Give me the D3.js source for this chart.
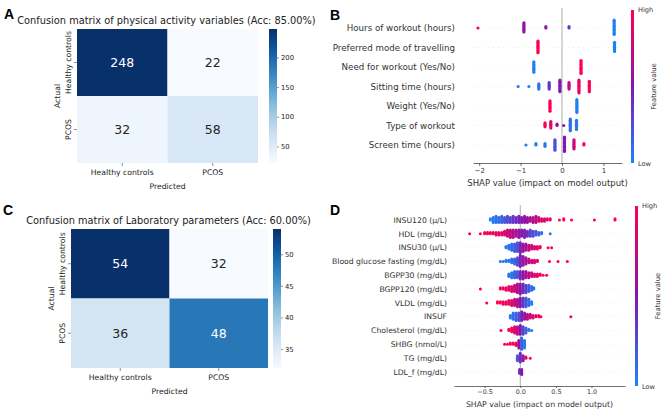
<!DOCTYPE html>
<html>
<head>
<meta charset="utf-8">
<script src="https://cdn.jsdelivr.net/npm/d3@7"></script>
<style>
  body { margin: 0; background: #fff; }
  svg text { font-family: "DejaVu Sans", sans-serif; }
</style>
</head>
<body>
<div id="fig"></div>
<script>
// confusion matrices (rows = actual, cols = predicted)
const classes = ["Healthy controls", "PCOS"];
const cmPhysical = [[248, 22], [32, 58]];
const cmLab = [[54, 32], [36, 48]];
const cmPhysicalTicks = [50, 100, 150, 200];
const cmLabTicks = [35, 40, 45, 50];

// SHAP summary, physical activity: [shap value, stacked count, feature value 0..1]
const physFeatures = [
  "Hours of workout (hours)", "Preferred mode of travelling", "Need for workout (Yes/No)",
  "Sitting time (hours)", "Weight (Yes/No)", "Type of workout", "Screen time (hours)"
];
const physShap = [
  [[-2.03, 1, 1], [-0.92, 8, 0.55], [-0.39, 2, 0.55], [0.17, 2, 0.35], [1.26, 12, 0.02]],
  [[-0.58, 10, 1], [1.27, 8, 0.02]],
  [[-0.68, 9, 0.02], [0.46, 11, 1]],
  [[-1.06, 1, 0.02], [-0.8, 1, 0.02], [-0.56, 5, 0.08], [-0.31, 6, 0.35], [-0.05, 10, 0.5],
   [0.17, 6, 0.75], [0.41, 11, 0.92], [0.66, 9, 1]],
  [[-0.29, 9, 1], [0.36, 11, 0.02]],
  [[-0.41, 4, 1], [-0.27, 6, 0.9], [-0.12, 2, 0.6], [0.04, 1, 0.5], [0.2, 10, 0.12], [0.35, 8, 0.04]],
  [[-0.87, 1, 0.02], [-0.63, 2, 0.02], [-0.41, 3, 0.05], [-0.17, 9, 0.25], [0.06, 12, 0.5],
   [0.29, 8, 0.8], [0.53, 2, 1]]
];
const physXTicks = [-2, -1, 0, 1];

// SHAP summary, laboratory parameters
const labFeatures = [
  "INSU120 (μ/L)", "HDL (mg/dL)", "INSU30 (μ/L)", "Blood glucose fasting (mg/dL)",
  "BGPP30 (mg/dL)", "BGPP120 (mg/dL)", "VLDL (mg/dL)", "INSUF", "Cholesterol (mg/dL)",
  "SHBG (nmol/L)", "TG (mg/dL)", "LDL_f (mg/dL)"
];
const labShap = [
  [[-0.42, 2, 0.03], [-0.38, 5, 0.05], [-0.34, 6, 0.08], [-0.3, 5, 0.1], [-0.26, 6, 0.15],
   [-0.22, 5, 0.2], [-0.18, 6, 0.25], [-0.14, 5, 0.3], [-0.1, 6, 0.35], [-0.06, 5, 0.4],
   [-0.02, 6, 0.45], [0.02, 5, 0.5], [0.06, 6, 0.55], [0.1, 5, 0.6], [0.14, 4, 0.65],
   [0.18, 5, 0.7], [0.22, 6, 0.75], [0.26, 4, 0.8], [0.3, 3, 0.85], [0.34, 3, 0.88],
   [0.38, 2, 0.9], [0.42, 2, 0.95], [0.55, 1, 1], [0.61, 2, 1], [0.72, 1, 1], [1.04, 1, 1], [1.33, 2, 1]],
  [[-0.71, 1, 1], [-0.56, 1, 1], [-0.5, 2, 1], [-0.46, 2, 0.97], [-0.42, 2, 0.95], [-0.38, 2, 0.95],
   [-0.34, 3, 0.92], [-0.3, 3, 0.9], [-0.26, 3, 0.87], [-0.22, 4, 0.85], [-0.18, 6, 0.8],
   [-0.14, 7, 0.75], [-0.1, 7, 0.7], [-0.06, 6, 0.65], [-0.02, 7, 0.6], [0.02, 6, 0.5],
   [0.06, 7, 0.45], [0.1, 5, 0.4], [0.14, 6, 0.3], [0.18, 5, 0.25], [0.22, 4, 0.2],
   [0.26, 3, 0.15], [0.3, 2, 0.1], [0.42, 1, 0.05]],
  [[-0.2, 2, 0.05], [-0.16, 4, 0.08], [-0.12, 6, 0.1], [-0.08, 7, 0.15], [-0.04, 8, 0.25],
   [0, 9, 0.45], [0.04, 7, 0.55], [0.08, 6, 0.65], [0.12, 5, 0.75], [0.16, 4, 0.8],
   [0.2, 3, 0.85], [0.24, 3, 0.9], [0.28, 2, 0.95], [0.39, 1, 1], [0.44, 1, 1]],
  [[-0.28, 1, 0.05], [-0.24, 1, 0.05], [-0.2, 2, 0.05], [-0.16, 2, 0.08], [-0.12, 4, 0.1],
   [-0.08, 5, 0.15], [-0.04, 7, 0.25], [0, 10, 0.45], [0.04, 8, 0.55], [0.08, 6, 0.65],
   [0.12, 4, 0.75], [0.16, 3, 0.8], [0.2, 3, 0.85], [0.24, 2, 0.9], [0.41, 1, 1], [0.53, 1, 1], [0.66, 1, 1]],
  [[-0.16, 3, 0.05], [-0.12, 5, 0.08], [-0.08, 6, 0.15], [-0.04, 6, 0.2], [0, 7, 0.4],
   [0.04, 7, 0.55], [0.08, 6, 0.65], [0.12, 5, 0.7], [0.16, 4, 0.8], [0.2, 3, 0.85],
   [0.24, 3, 0.9], [0.28, 2, 0.95], [0.32, 1, 1], [0.37, 1, 1]],
  [[-0.56, 1, 1], [-0.28, 2, 1], [-0.24, 2, 0.95], [-0.2, 3, 0.95], [-0.16, 4, 0.9],
   [-0.12, 5, 0.85], [-0.08, 6, 0.8], [-0.04, 8, 0.7], [0, 9, 0.55], [0.04, 8, 0.4],
   [0.08, 7, 0.3], [0.12, 6, 0.2], [0.16, 4, 0.1], [0.19, 2, 0.05]],
  [[-0.47, 1, 1], [-0.32, 2, 1], [-0.28, 2, 1], [-0.24, 3, 0.95], [-0.2, 3, 0.95],
   [-0.16, 4, 0.9], [-0.12, 5, 0.85], [-0.08, 6, 0.8], [-0.04, 7, 0.7], [0, 8, 0.5],
   [0.04, 8, 0.35], [0.08, 8, 0.2], [0.12, 6, 0.1], [0.16, 3, 0.05]],
  [[-0.14, 3, 0.05], [-0.1, 6, 0.1], [-0.06, 7, 0.15], [-0.02, 7, 0.25], [0.02, 8, 0.45],
   [0.06, 6, 0.6], [0.1, 5, 0.7], [0.14, 4, 0.8], [0.18, 3, 0.85], [0.22, 2, 0.9],
   [0.26, 2, 0.95], [0.29, 1, 1], [0.71, 1, 1]],
  [[-0.27, 1, 1], [-0.16, 2, 1], [-0.12, 4, 0.95], [-0.08, 6, 0.85], [-0.04, 7, 0.75],
   [0, 8, 0.5], [0.04, 7, 0.3], [0.08, 5, 0.15], [0.12, 2, 0.05], [0.16, 1, 0.05]],
  [[-0.22, 1, 1], [-0.18, 1, 1], [-0.14, 2, 1], [-0.1, 2, 0.95], [-0.06, 3, 0.9],
   [-0.02, 7, 0.6], [0.02, 10, 0.15], [0.06, 7, 0.05]],
  [[-0.04, 5, 0.2], [0, 8, 0.4], [0.04, 5, 0.6], [0.08, 2, 0.85], [0.14, 1, 1]],
  [[-0.01, 4, 0.4], [0.02, 5, 0.5]]
];
const labXTicks = [-0.5, 0, 0.5, 1.0];

const width = 669;
const height = 413;

const svg = d3.select("#fig").append("svg")
  .attr("width", width)
  .attr("height", height);

const defs = svg.append("defs");

// blue -> violet -> red, like shap's red_blue map
const shapColor = d3.scaleLinear()
  .domain([0, 0.5, 1])
  .range(["#1a84f8", "#8516b0", "#ff0052"])
  .interpolate(d3.interpolateRgb);

// panel letters
[["A", 4, 19], ["B", 330, 20], ["C", 3, 215], ["D", 330, 215]].forEach(([t, x, y]) => {
  svg.append("text")
    .attr("x", x).attr("y", y)
    .style("font-family", "'Liberation Sans', Arial, sans-serif")
    .style("font-weight", "bold")
    .style("font-size", "14px")
    .text(t);
});

function drawMatrix(cfg) {
  const g = svg.append("g");
  const flat = cfg.values.flat();
  const lo = d3.min(flat), hi = d3.max(flat);
  const color = d3.scaleSequential(d3.interpolateBlues).domain([lo, hi]);
  const x = d3.scaleBand().domain(classes).range([cfg.left, cfg.right]);
  const y = d3.scaleBand().domain(classes).range([cfg.top, cfg.bottom]);

  const cells = cfg.values.flatMap((row, i) =>
    row.map((v, j) => ({ actual: classes[i], predicted: classes[j], v })));

  g.selectAll("rect.cell").data(cells).join("rect")
    .attr("class", "cell")
    .attr("x", (d) => x(d.predicted))
    .attr("y", (d) => y(d.actual))
    .attr("width", x.bandwidth())
    .attr("height", y.bandwidth())
    .attr("fill", (d) => color(d.v));

  g.selectAll("text.val").data(cells).join("text")
    .attr("class", "val")
    .attr("x", (d) => x(d.predicted) + x.bandwidth() / 2)
    .attr("y", (d) => y(d.actual) + y.bandwidth() / 2)
    .attr("dy", "0.36em")
    .attr("text-anchor", "middle")
    .style("font-size", "12.5px")
    .attr("fill", (d) => (d.v - lo) / (hi - lo) > 0.5 ? "#ffffff" : "#262626")
    .text((d) => d.v);

  // title
  g.append("text")
    .attr("x", (cfg.left + cfg.right) / 2 - 1)
    .attr("y", cfg.top - 5)
    .attr("text-anchor", "middle")
    .style("font-size", "9.8px")
    .attr("fill", "#222")
    .text(cfg.title);

  // axes
  const xAxis = g.append("g")
    .attr("transform", `translate(0, ${cfg.bottom})`)
    .call(d3.axisBottom(x).tickSize(3).tickPadding(4));
  xAxis.select(".domain").remove();
  xAxis.selectAll("line").attr("stroke", "#444").attr("stroke-width", 0.6);
  xAxis.selectAll("text").style("font-size", "7.7px").attr("fill", "#222")
    .style("font-family", "'DejaVu Sans', sans-serif");

  const yAxis = g.append("g")
    .attr("transform", `translate(${cfg.left}, 0)`)
    .call(d3.axisLeft(y).tickSize(3));
  yAxis.select(".domain").remove();
  yAxis.selectAll("line").attr("stroke", "#444").attr("stroke-width", 0.6);
  yAxis.selectAll("text")
    .attr("x", 0).attr("y", -6).attr("dy", 0)
    .attr("text-anchor", "middle")
    .attr("transform", "rotate(-90)")
    .style("font-size", "7.7px").attr("fill", "#222")
    .style("font-family", "'DejaVu Sans', sans-serif");

  g.append("text")
    .attr("x", (cfg.left + cfg.right) / 2)
    .attr("y", cfg.bottom + 26)
    .attr("text-anchor", "middle")
    .style("font-size", "7.7px").attr("fill", "#222")
    .text("Predicted");

  g.append("text")
    .attr("transform", `translate(${cfg.left - 17}, ${(cfg.top + cfg.bottom) / 2}) rotate(-90)`)
    .attr("text-anchor", "middle")
    .style("font-size", "7.7px").attr("fill", "#222")
    .text("Actual");

  // colour bar
  const gradId = "grad-" + cfg.id;
  const grad = defs.append("linearGradient")
    .attr("id", gradId)
    .attr("x1", 0).attr("y1", 1).attr("x2", 0).attr("y2", 0);
  d3.range(0, 1.0001, 0.1).forEach((t) => {
    grad.append("stop").attr("offset", t).attr("stop-color", d3.interpolateBlues(t));
  });
  g.append("rect")
    .attr("x", cfg.cbarX).attr("y", cfg.top)
    .attr("width", 8).attr("height", cfg.bottom - cfg.top)
    .attr("fill", `url(#${gradId})`);
  const cScale = d3.scaleLinear().domain([lo, hi]).range([cfg.bottom, cfg.top]);
  const cAxis = g.append("g")
    .attr("transform", `translate(${cfg.cbarX + 8}, 0)`)
    .call(d3.axisRight(cScale).tickValues(cfg.ticks).tickSize(2).tickPadding(2));
  cAxis.select(".domain").remove();
  cAxis.selectAll("line").attr("stroke", "#444").attr("stroke-width", 0.6);
  cAxis.selectAll("text").style("font-size", "6.8px").attr("fill", "#222")
    .style("font-family", "'DejaVu Sans', sans-serif");
}

function drawShap(cfg) {
  const g = svg.append("g");
  const x = d3.scaleLinear().domain(cfg.domain).range([cfg.left, cfg.right]);
  const y = d3.scalePoint().domain(cfg.features).range([cfg.firstRow, cfg.lastRow]);

  // dotted row guides
  g.selectAll("line.guide").data(cfg.features).join("line")
    .attr("class", "guide")
    .attr("x1", cfg.left).attr("x2", cfg.right)
    .attr("y1", (d) => y(d)).attr("y2", (d) => y(d))
    .attr("stroke", "#dddddd").attr("stroke-width", 0.5)
    .attr("stroke-dasharray", "1 4");

  // zero line
  g.append("line")
    .attr("x1", x(0)).attr("x2", x(0))
    .attr("y1", cfg.lineTop).attr("y2", cfg.axisY)
    .attr("stroke", "#999").attr("stroke-width", 0.8);

  // stacked dots
  const pts = [];
  cfg.bins.forEach((row, i) => {
    row.forEach(([v, n, f]) => {
      for (let k = 0; k < n; k++) {
        const o = Math.ceil(k / 2) * (k % 2 ? -1 : 1);
        pts.push({ feature: cfg.features[i], v, f, o });
      }
    });
  });
  g.selectAll("circle").data(pts).join("circle")
    .attr("cx", (d) => x(d.v))
    .attr("cy", (d) => y(d.feature) + d.o * cfg.step)
    .attr("r", cfg.r)
    .attr("fill", (d) => shapColor(d.f));

  // feature labels
  g.selectAll("text.feat").data(cfg.features).join("text")
    .attr("class", "feat")
    .attr("x", cfg.labelX)
    .attr("y", (d) => y(d))
    .attr("dy", "0.35em")
    .attr("text-anchor", "end")
    .style("font-size", cfg.labelSize + "px")
    .attr("fill", "#333")
    .text((d) => d);

  // x axis
  const ax = g.append("g")
    .attr("transform", `translate(0, ${cfg.axisY})`)
    .call(d3.axisBottom(x).tickValues(cfg.ticks).tickFormat(cfg.format)
      .tickSize(cfg.tickLen).tickSizeOuter(0).tickPadding(cfg.tickPad));
  ax.select(".domain").attr("stroke", "#333").attr("stroke-width", 0.7);
  ax.selectAll("line").attr("stroke", "#333").attr("stroke-width", 0.7);
  ax.selectAll("text").style("font-size", cfg.tickSize + "px").attr("fill", "#333")
    .style("font-family", "'DejaVu Sans', sans-serif");

  g.append("text")
    .attr("x", (cfg.left + cfg.right) / 2)
    .attr("y", cfg.xLabelY)
    .attr("text-anchor", "middle")
    .style("font-size", cfg.xLabelSize + "px")
    .attr("fill", "#333")
    .text("SHAP value (impact on model output)");

  // colour bar
  const gradId = "shapgrad-" + cfg.id;
  const grad = defs.append("linearGradient")
    .attr("id", gradId)
    .attr("x1", 0).attr("y1", 1).attr("x2", 0).attr("y2", 0);
  d3.range(0, 1.0001, 0.1).forEach((t) => {
    grad.append("stop").attr("offset", t).attr("stop-color", shapColor(t));
  });
  g.append("rect")
    .attr("x", cfg.cbarX).attr("y", cfg.cbarTop)
    .attr("width", 3).attr("height", cfg.cbarBottom - cfg.cbarTop)
    .attr("fill", `url(#${gradId})`);
  g.append("text")
    .attr("x", cfg.cbarX + 7).attr("y", cfg.cbarTop + 2)
    .style("font-size", "6.6px").attr("fill", "#333")
    .text("High");
  g.append("text")
    .attr("x", cfg.cbarX + 7).attr("y", cfg.cbarBottom + 3)
    .style("font-size", "6.6px").attr("fill", "#333")
    .text("Low");
  g.append("text")
    .attr("transform", `translate(${cfg.cbarX + 25}, ${(cfg.cbarTop + cfg.cbarBottom) / 2}) rotate(-90)`)
    .attr("text-anchor", "middle")
    .style("font-size", "6.8px").attr("fill", "#333")
    .text("Feature value");
}

drawMatrix({
  id: "a", values: cmPhysical, ticks: cmPhysicalTicks,
  title: "Confusion matrix of physical activity variables (Acc: 85.00%)",
  left: 77, right: 258, top: 29, bottom: 163, cbarX: 269
});
drawMatrix({
  id: "c", values: cmLab, ticks: cmLabTicks,
  title: "Confusion matrix of Laboratory parameters (Acc: 60.00%)",
  left: 71, right: 268, top: 229, bottom: 368, cbarX: 273
});

drawShap({
  id: "b", features: physFeatures, bins: physShap, ticks: physXTicks,
  format: d3.format("d"), domain: [-2.15, 1.45], left: 473, right: 622,
  firstRow: 28, lastRow: 145, lineTop: 8, axisY: 163, step: 1.3, r: 1.6,
  labelX: 455, labelSize: 8.7, tickSize: 7, tickLen: 3, tickPad: 2,
  xLabelY: 186, xLabelSize: 8.5,
  cbarX: 631, cbarTop: 10, cbarBottom: 163
});
drawShap({
  id: "d", features: labFeatures, bins: labShap, ticks: labXTicks,
  format: d3.format(".1f"), domain: [-0.93, 1.47], left: 454, right: 625,
  firstRow: 220, lastRow: 372, lineTop: 205, axisY: 386, step: 1.25, r: 1.5,
  labelX: 447, labelSize: 7.7, tickSize: 6.4, tickLen: 2, tickPad: 1,
  xLabelY: 407, xLabelSize: 7.8,
  cbarX: 635, cbarTop: 206, cbarBottom: 386
});
</script>
</body>
</html>
